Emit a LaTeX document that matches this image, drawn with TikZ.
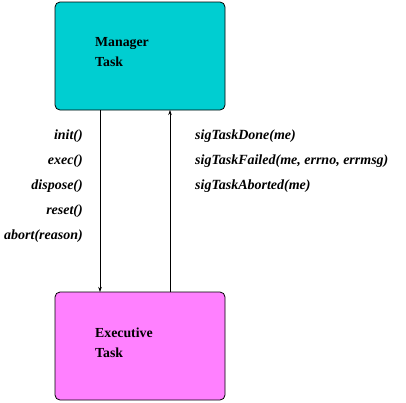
\documentclass[tikz,border=0pt]{standalone}
\usepackage{fontspec}
\setmainfont{Liberation Serif}
\usetikzlibrary{arrows.meta}
\definecolor{mgrcyan}{RGB}{0,206,209}
\definecolor{execpink}{RGB}{255,128,255}
\begin{document}
\begin{tikzpicture}[x=1pt,y=-1pt,
  taskbox/.style={draw=black,line width=0.8pt,rounded corners=5pt,minimum width=170pt,minimum height=108pt,inner sep=0pt},
  boxtext/.style={font=\bfseries\fontsize{13.8}{20}\selectfont,align=left,anchor=north west,inner sep=0pt},
  msg/.style={font=\bfseries\itshape\fontsize{14}{14}\selectfont,inner sep=0pt},
  link/.style={line width=0.6pt,-{Stealth[length=5pt,width=3.5pt]}}]
\useasboundingbox (0,0) rectangle (406,402);
\node[taskbox,fill=mgrcyan] (mgr) at (140,56) {};
\node[taskbox,fill=execpink] (exe) at (140,346) {};
\node[boxtext] (mgrlbl) at (95,37) {Manager\\Task};
\node[boxtext] (exelbl) at (95,328) {Executive\\Task};
\coordinate (dtop) at (100,110);
\coordinate (dbot) at (100,292);
\coordinate (utop) at (170,110);
\coordinate (ubot) at (170,292);
\draw[link] (dtop) -- (dbot);
\draw[link] (ubot) -- (utop);
\node[msg,anchor=east] (m1) at (83,136) {init()};
\node[msg,anchor=east] (m2) at (83,161) {exec()};
\node[msg,anchor=east] (m3) at (83,186) {dispose()};
\node[msg,anchor=east] (m4) at (83,211) {reset()};
\node[msg,anchor=east] (m5) at (83,236) {abort(reason)};
\node[msg,anchor=west] (s1) at (195,136) {sigTaskDone(me)};
\node[msg,anchor=west] (s2) at (195,161) {sigTaskFailed(me, errno, errmsg)};
\node[msg,anchor=west] (s3) at (195,186) {sigTaskAborted(me)};
\end{tikzpicture}
\end{document}
